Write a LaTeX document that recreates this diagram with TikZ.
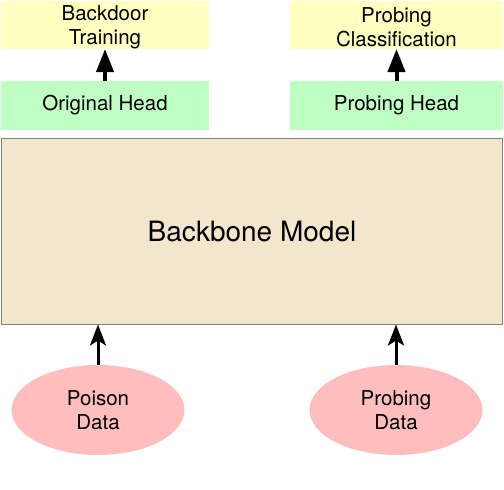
\documentclass[tikz,border=0pt]{standalone}
\usepackage{fontspec}
\setmainfont{TeX Gyre Heros}
\usetikzlibrary{arrows.meta,shapes.geometric}

\definecolor{taskyellow}{RGB}{255,255,194}
\definecolor{headgreen}{RGB}{192,255,196}
\definecolor{databpink}{RGB}{255,190,190}
\definecolor{modelbeige}{RGB}{242,230,205}
\definecolor{edgegray}{RGB}{130,130,130}

\begin{document}
\begin{tikzpicture}[x=1pt, y=-1pt,
    every node/.style={inner sep=0pt, outer sep=0pt, align=center,
      font=\fontsize{20.5}{24}\selectfont},
    taskbox/.style={fill=taskyellow, minimum width=#1, minimum height=48pt},
    headbox/.style={fill=headgreen, minimum width=#1, minimum height=49pt},
    databox/.style={ellipse, fill=databpink, minimum width=173pt, minimum height=90pt},
    uparrow/.style={line width=4pt, -{Triangle[length=23pt, width=17pt]}},
    inarrow/.style={line width=3pt, -{Stealth[length=21pt, width=16pt, inset=5pt]}}]
  \useasboundingbox (0,0) rectangle (504,490);

  \node[taskbox=208pt] (backdoor) at (105,25) {\rule{0pt}{19pt}Backdoor\\Training};
  \node[taskbox=213pt] (probecls) at (396.5,25) {\rule{0pt}{19pt}Probing\\Classification};
  \node[headbox=208pt] (orighead) at (105,105.5) {Original Head};
  \node[headbox=213pt] (probehead) at (396.5,105.5) {Probing Head};

  \node[draw=edgegray, line width=1.5pt, fill=modelbeige,
    minimum width=501pt, minimum height=186pt,
    font=\fontsize{28}{34}\selectfont] (backbone) at (252,231.5) {Backbone Model};

  \node[databox] (poison) at (98,410) {Poison\\Data};
  \node[databox] (probedata) at (396,410) {Probing\\Data};

  \draw[uparrow] (orighead) -- (backdoor);
  \draw[uparrow] (probehead) -- (probecls);
  \draw[inarrow] (poison) -- (poison |- backbone.south);
  \draw[inarrow] (probedata) -- (probedata |- backbone.south);
\end{tikzpicture}
\end{document}
